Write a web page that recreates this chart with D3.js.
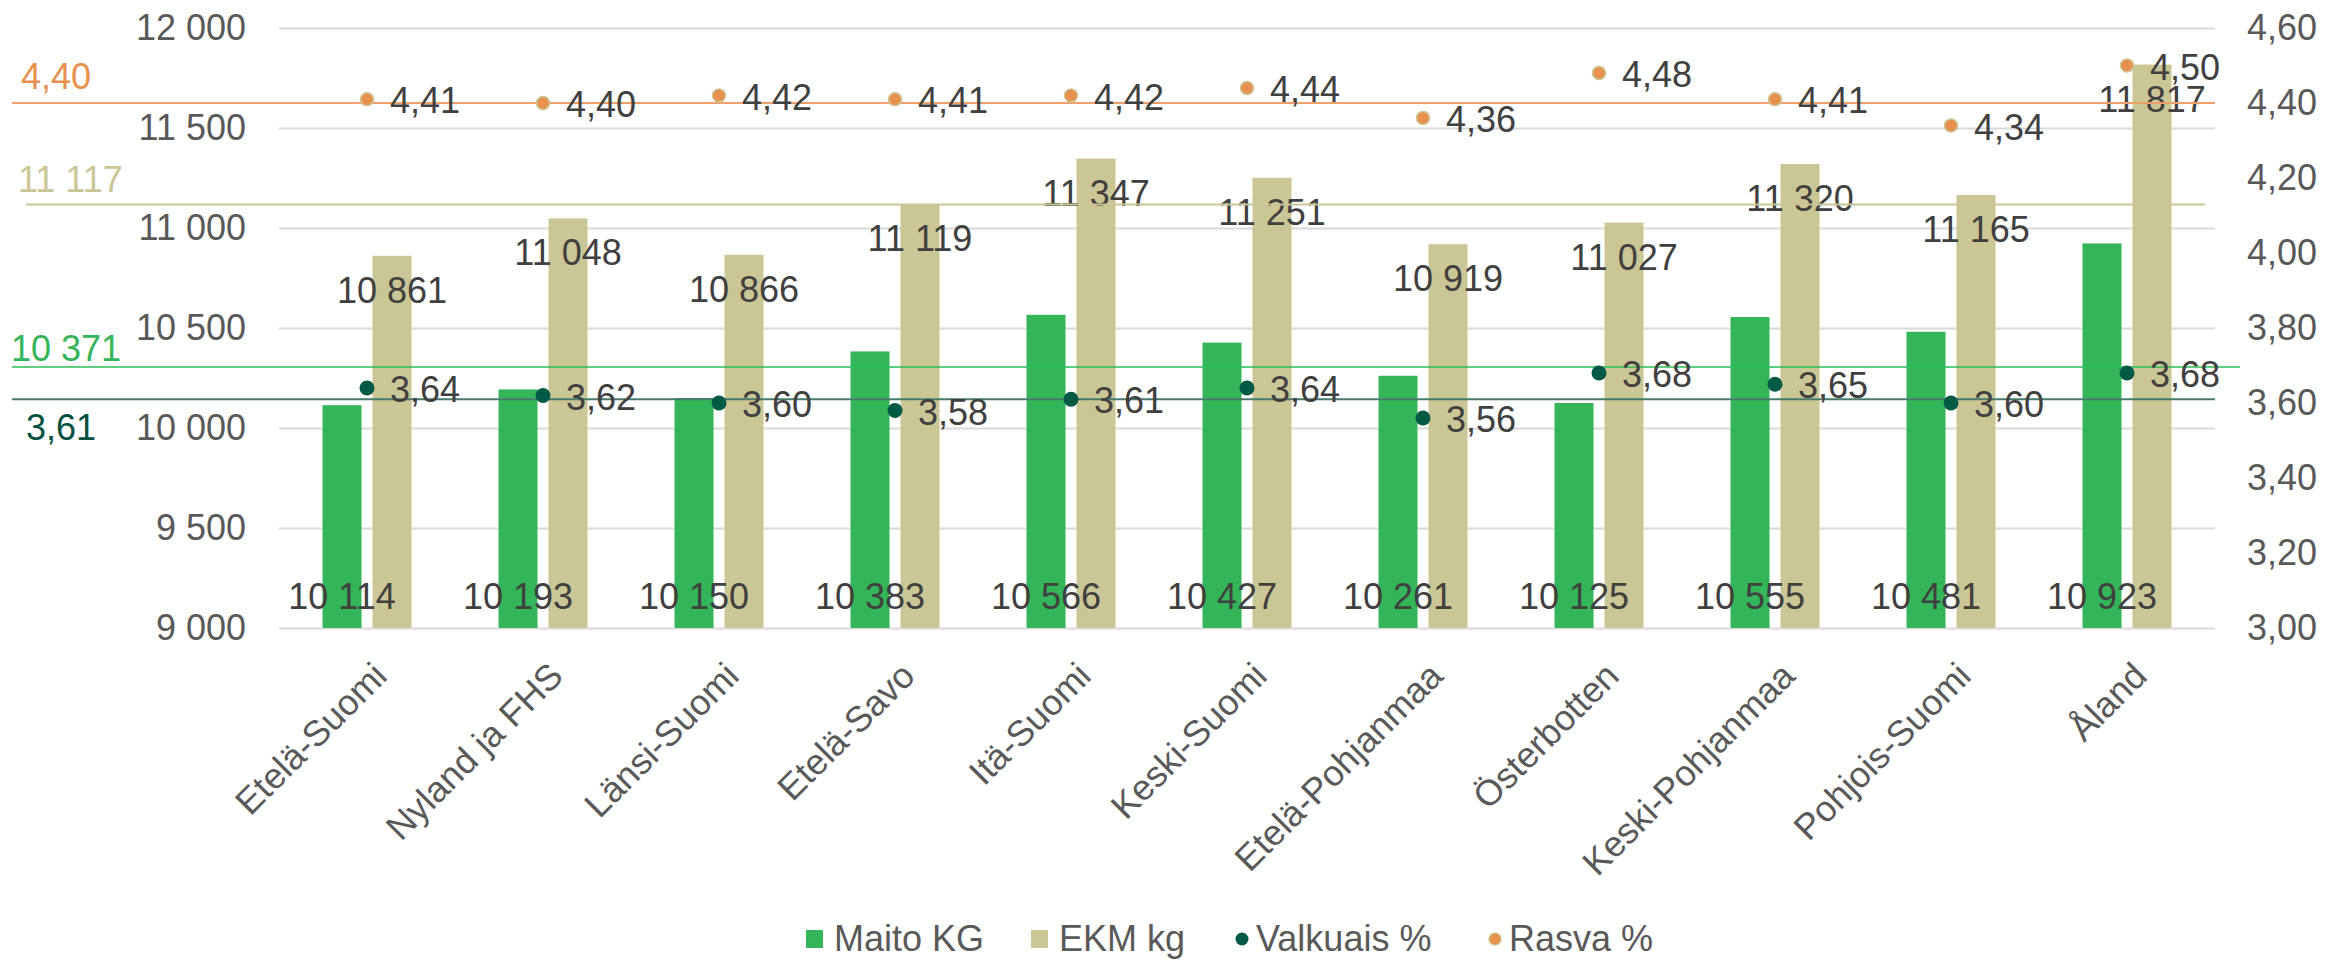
<!DOCTYPE html>
<html>
<head>
<meta charset="utf-8">
<script src="https://cdn.jsdelivr.net/npm/d3@7"></script>
<style>
  body { margin: 0; background: #fff; }
  svg { display: block; font-family: "Liberation Sans", Arial, sans-serif; }
</style>
</head>
<body>
<svg id="chart" width="2325" height="960"></svg>
<script>
// data
const regions = ["Etelä-Suomi", "Nyland ja FHS", "Länsi-Suomi", "Etelä-Savo", "Itä-Suomi", "Keski-Suomi",
  "Etelä-Pohjanmaa", "Österbotten", "Keski-Pohjanmaa", "Pohjois-Suomi", "Åland"];
const maitoKg = [10114, 10193, 10150, 10383, 10566, 10427, 10261, 10125, 10555, 10481, 10923];
const ekmKg = [10861, 11048, 10866, 11119, 11347, 11251, 10919, 11027, 11320, 11165, 11817];
const valkuais = [3.64, 3.62, 3.60, 3.58, 3.61, 3.64, 3.56, 3.68, 3.65, 3.60, 3.68];
const rasva = [4.41, 4.40, 4.42, 4.41, 4.42, 4.44, 4.36, 4.48, 4.41, 4.34, 4.50];
const leftTicks = [9000, 9500, 10000, 10500, 11000, 11500, 12000];
const rightTicks = [3.0, 3.2, 3.4, 3.6, 3.8, 4.0, 4.2, 4.4, 4.6];
const seriesNames = ["Maito KG", "EKM kg", "Valkuais %", "Rasva %"];
// average lines: label, value, axis
const avgLabels = ["4,40", "11 117", "10 371", "3,61"];
const avgValues = [4.40, 11117, 10305, 3.61];
const avgAxis = ["right", "left", "left", "right"];

const COL = {
  maito: "#35B55A", ekm: "#CBC695", valk: "#005A46", rasva: "#E8914F",
  grid: "#D9D9D9", axisText: "#595959", label: "#404040"
};
const FS = 36;

const fi = d3.formatLocale({ decimal: ",", thousands: " ", grouping: [3], currency: ["", "€"] });
const fmtInt = fi.format(",d");
const fmtPct = fi.format(",.2f");

const svg = d3.select("#chart");
const pLeft = 279, pRight = 2215, pTop = 28, pBottom = 628;

const x0 = d3.scaleBand().domain(regions).range([pLeft, pRight]).padding(0);
const x1 = d3.scaleBand().domain(["maito", "ekm"]).range([0, 89]).paddingInner(0.22);
const groupOff = (x0.bandwidth() - 89) / 2;
const yL = d3.scaleLinear().domain([9000, 12000]).range([pBottom, pTop]);
const yR = d3.scaleLinear().domain([3.0, 4.6]).range([pBottom, pTop]);

// grid lines
svg.append("g")
  .attr("transform", `translate(${pLeft},0)`)
  .call(d3.axisLeft(yL).tickValues(leftTicks).tickSize(-(pRight - pLeft)).tickFormat(""))
  .call(g => g.select(".domain").remove())
  .call(g => g.selectAll("line").attr("stroke", COL.grid).attr("stroke-width", 2));

// left axis labels
svg.append("g")
  .attr("transform", "translate(246,0)")
  .call(d3.axisLeft(yL).tickValues(leftTicks).tickSize(0).tickPadding(0).tickFormat(fmtInt))
  .call(g => g.select(".domain").remove())
  .call(g => g.selectAll("text").attr("fill", COL.axisText).attr("font-size", FS)
    .attr("font-family", "Liberation Sans, Arial, sans-serif"));

// right axis labels
svg.append("g")
  .attr("transform", "translate(2247,0)")
  .call(d3.axisRight(yR).tickValues(rightTicks).tickSize(0).tickPadding(0).tickFormat(fmtPct))
  .call(g => g.select(".domain").remove())
  .call(g => g.selectAll("text").attr("fill", COL.axisText).attr("font-size", FS)
    .attr("font-family", "Liberation Sans, Arial, sans-serif"));

// x axis labels
svg.append("g")
  .attr("transform", `translate(0,${pBottom})`)
  .call(d3.axisBottom(x0).tickSize(0).tickPadding(0))
  .call(g => g.select(".domain").remove())
  .call(g => g.selectAll("text")
    .attr("fill", COL.axisText).attr("font-size", FS)
    .attr("font-family", "Liberation Sans, Arial, sans-serif")
    .attr("text-anchor", "end")
    .attr("dy", 0)
    .attr("transform", "translate(22,50) rotate(-45)"));

// bars
const rows = regions.map((r, i) => ({ r, maito: maitoKg[i], ekm: ekmKg[i], valk: valkuais[i], rasva: rasva[i] }));
const groups = svg.append("g").selectAll("g").data(rows).join("g")
  .attr("transform", d => `translate(${x0(d.r) + groupOff},0)`);
groups.append("rect")
  .attr("x", x1("maito")).attr("width", x1.bandwidth())
  .attr("y", d => yL(d.maito)).attr("height", d => pBottom - yL(d.maito))
  .attr("fill", COL.maito);
groups.append("rect")
  .attr("x", x1("ekm")).attr("width", x1.bandwidth())
  .attr("y", d => yL(d.ekm)).attr("height", d => pBottom - yL(d.ekm))
  .attr("fill", COL.ekm);

// average lines
const lineStyles = [
  { stroke: "#EDA06B", text: "#E8914F", x1: 12, x2: 2215, w: 2 },
  { stroke: "#CBC695", text: "#CBC695", x1: 26, x2: 2205, w: 2 },
  { stroke: "#2DBE55", text: "#35B55A", x1: 12, x2: 2240, w: 1.5 },
  { stroke: "#477A6D", text: "#00503F", x1: 12, x2: 2215, w: 2 }
];
const labelPos = [[21, -14], [18, -13], [11, -6], [26, 41]];
avgValues.forEach((v, i) => {
  const y = avgAxis[i] === "left" ? yL(v) : yR(v);
  const st = lineStyles[i];
  svg.append("line").attr("x1", st.x1).attr("x2", st.x2).attr("y1", y).attr("y2", y)
    .attr("stroke", st.stroke).attr("stroke-width", st.w);
  svg.append("text").attr("x", labelPos[i][0]).attr("y", y + labelPos[i][1])
    .attr("font-size", FS).attr("fill", st.text).text(avgLabels[i]);
});

// bar labels
groups.append("text")
  .attr("x", x1("maito") + x1.bandwidth() / 2).attr("y", pBottom - 19)
  .attr("text-anchor", "middle").attr("font-size", FS).attr("fill", COL.label)
  .text(d => fmtInt(d.maito));
groups.append("text")
  .attr("x", x1("ekm") + x1.bandwidth() / 2).attr("y", d => yL(d.ekm) + 47)
  .attr("text-anchor", "middle").attr("font-size", FS).attr("fill", COL.label)
  .text(d => fmtInt(d.ekm));

// points
const cx = d => x0(d.r) + x0.bandwidth() / 2;
svg.append("g").selectAll("circle").data(rows).join("circle")
  .attr("cx", cx).attr("cy", d => yR(d.valk)).attr("r", 7.5).attr("fill", COL.valk);
svg.append("g").selectAll("circle").data(rows).join("circle")
  .attr("cx", cx).attr("cy", d => yR(d.rasva)).attr("r", 6.5)
  .attr("fill", COL.rasva).attr("stroke", COL.ekm).attr("stroke-width", 1.5);
svg.append("g").selectAll("text").data(rows).join("text")
  .attr("x", d => cx(d) + 23).attr("y", d => yR(d.valk) + 14)
  .attr("font-size", FS).attr("fill", COL.label).text(d => fmtPct(d.valk));
svg.append("g").selectAll("text").data(rows).join("text")
  .attr("x", d => cx(d) + 23).attr("y", d => yR(d.rasva) + 14)
  .attr("font-size", FS).attr("fill", COL.label).text(d => fmtPct(d.rasva));

// legend
const legX = [806, 1031, 1237, 1490];
const legend = svg.append("g").attr("transform", "translate(0,939)");
seriesNames.forEach((name, i) => {
  const g = legend.append("g").attr("transform", `translate(${legX[i]},0)`);
  if (i < 2) {
    g.append("rect").attr("x", 0).attr("y", -9).attr("width", 17).attr("height", 18)
      .attr("fill", i === 0 ? COL.maito : COL.ekm);
    g.append("text").attr("x", 28).attr("y", 12).attr("font-size", FS)
      .attr("fill", COL.axisText).text(name);
  } else {
    g.append("circle").attr("cx", 5).attr("cy", 0).attr("r", i === 2 ? 6.5 : 6)
      .attr("fill", i === 2 ? COL.valk : COL.rasva)
      .attr("stroke", i === 3 ? COL.ekm : "none").attr("stroke-width", 1.5);
    g.append("text").attr("x", 19).attr("y", 12).attr("font-size", FS)
      .attr("fill", COL.axisText).text(name);
  }
});
</script>
</body>
</html>
